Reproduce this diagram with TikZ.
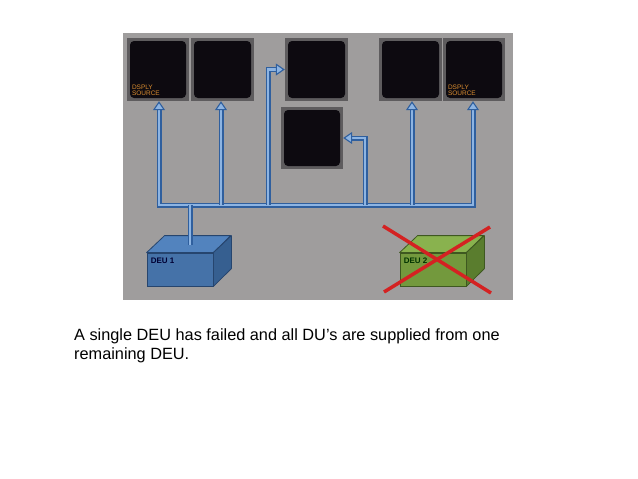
\documentclass[tikz,border=0pt]{standalone}
\usepackage{fontspec}
\setmainfont{Liberation Sans}
\usetikzlibrary{arrows.meta,calc}
\definecolor{panel}{HTML}{9F9D9D}
\definecolor{frame}{HTML}{5E5C5E}
\definecolor{screen}{HTML}{0D0A10}
\definecolor{pipeout}{HTML}{2F5F9E}
\definecolor{pipein}{HTML}{8DB4E2}
\definecolor{dsporange}{HTML}{DC8E30}
\definecolor{blueFront}{HTML}{4572A8}
\definecolor{blueTop}{HTML}{5283BE}
\definecolor{blueSide}{HTML}{365F90}
\definecolor{blueEdge}{HTML}{26456E}
\definecolor{greenFront}{HTML}{73993D}
\definecolor{greenTop}{HTML}{89B24E}
\definecolor{greenSide}{HTML}{5A7D2E}
\definecolor{greenEdge}{HTML}{3E5820}
\definecolor{redx}{HTML}{D42222}
\tikzset{
  disp/.style={fill=frame, minimum width=63pt, minimum height=63pt, inner sep=0pt,
    path picture={\fill[screen, rounded corners=4pt]
      ([shift={(3pt,-3pt)}]path picture bounding box.north west) rectangle
      ([shift={(-3pt,3pt)}]path picture bounding box.south east);}},
  ptip/.tip={Triangle[width=12pt,length=9pt,fill=pipein,color=pipeout,line width=1.1pt]},
  pipebase/.style={draw=pipein, line width=2.8pt},
  pipe/.style={pipebase, preaction={draw=pipeout, line width=5pt}},
  pipea/.style={pipebase, -ptip, preaction={draw=pipeout, line width=5pt, arrows=-, shorten >=5pt}},
  pipeaa/.style={pipebase, ptip-ptip, preaction={draw=pipeout, line width=5pt, arrows=-, shorten >=5pt, shorten <=5pt}},
  dsp/.style={font=\fontsize{6.5}{6.6}\selectfont, text=dsporange, align=left, inner sep=0pt},
  deubox/.style={minimum width=66pt, minimum height=33pt, inner sep=0pt, line width=0.8pt},
  deulabel/.style={font=\fontsize{8}{9}\selectfont\bfseries, inner sep=0pt},
  redcross/.style={draw=redx, line width=3.5pt},
}
\begin{document}
\begin{tikzpicture}[x=1pt,y=-1pt]
\useasboundingbox[fill=white] (0,0) rectangle (638,479);
\fill[panel] (123,33) rectangle (513,300);
% displays
\node[disp, minimum width=62pt] (d1) at (158,69.5) {};
\node[disp] (d2) at (222.5,69.5) {};
\node[disp] (d3) at (316.5,69.5) {};
\node[disp, minimum width=62pt, minimum height=62pt] (d4) at (312,138) {};
\node[disp] (d5) at (410.5,69.5) {};
\node[disp, minimum width=62pt] (d6) at (474,69.5) {};
\node[dsp, anchor=south west] (s1) at ([shift={(5pt,5pt)}]d1.south west) {DSPLY\\SOURCE};
\node[dsp, anchor=south west] (s6) at ([shift={(5pt,5pt)}]d6.south west) {DSPLY\\SOURCE};
% bus coordinates
\coordinate (b1) at (159,205);
\coordinate (b2) at (221,205);
\coordinate (b3) at (268,205);
\coordinate (bs) at (190,205);
\coordinate (b4) at (365,205);
\coordinate (b5) at (412,205);
\coordinate (b6) at (473,205);
\coordinate (st) at (190,245);
% DEU 1
\node[deubox, fill=blueFront, draw=blueEdge] (deu1) at (180,269.5) {};
\filldraw[fill=blueTop, draw=blueEdge, line width=0.8pt, line join=round] (deu1.north west) -- ++(18pt,17pt) -- ++(66pt,0pt) -- (deu1.north east) -- cycle;
\filldraw[fill=blueSide, draw=blueEdge, line width=0.8pt, line join=round] (deu1.north east) -- ++(18pt,17pt) -- ++(0pt,-33pt) -- (deu1.south east) -- cycle;
\node[deulabel, text=blue!20!black, anchor=base west] (l1) at ([shift={(4pt,-11pt)}]deu1.north west) {DEU 1};
% DEU 2
\node[deubox, fill=greenFront, draw=greenEdge] (deu2) at (433,269.5) {};
\filldraw[fill=greenTop, draw=greenEdge, line width=0.8pt, line join=round] (deu2.north west) -- ++(18pt,17pt) -- ++(66pt,0pt) -- (deu2.north east) -- cycle;
\filldraw[fill=greenSide, draw=greenEdge, line width=0.8pt, line join=round] (deu2.north east) -- ++(18pt,17pt) -- ++(0pt,-33pt) -- (deu2.south east) -- cycle;
\node[deulabel, text=black!80!green, anchor=base west] (l2) at ([shift={(4pt,-11pt)}]deu2.north west) {DEU 2};
% pipes
\draw[pipeaa] (b1 |- d1.south) -- (b1) -- (b6) -- (b6 |- d6.south);
\draw[pipea] (b2) -- (b2 |- d2.south);
\draw[pipea] (b3) |- (d3.west);
\draw[pipea] (b4) |- (d4.east);
\draw[pipea] (b5) -- (b5 |- d5.south);
\draw[pipe] (bs) -- (st);
% failure cross
\draw[redcross] (383,226) -- (491,293);
\draw[redcross] (490,227) -- (384,292);
% caption
\node[anchor=north west, align=left, inner sep=0pt, font=\fontsize{16.3}{19}\selectfont] (cap) at (74,328)
  {A single DEU has failed and all DU’s are supplied from one\\remaining DEU.};
\end{tikzpicture}
\end{document}
